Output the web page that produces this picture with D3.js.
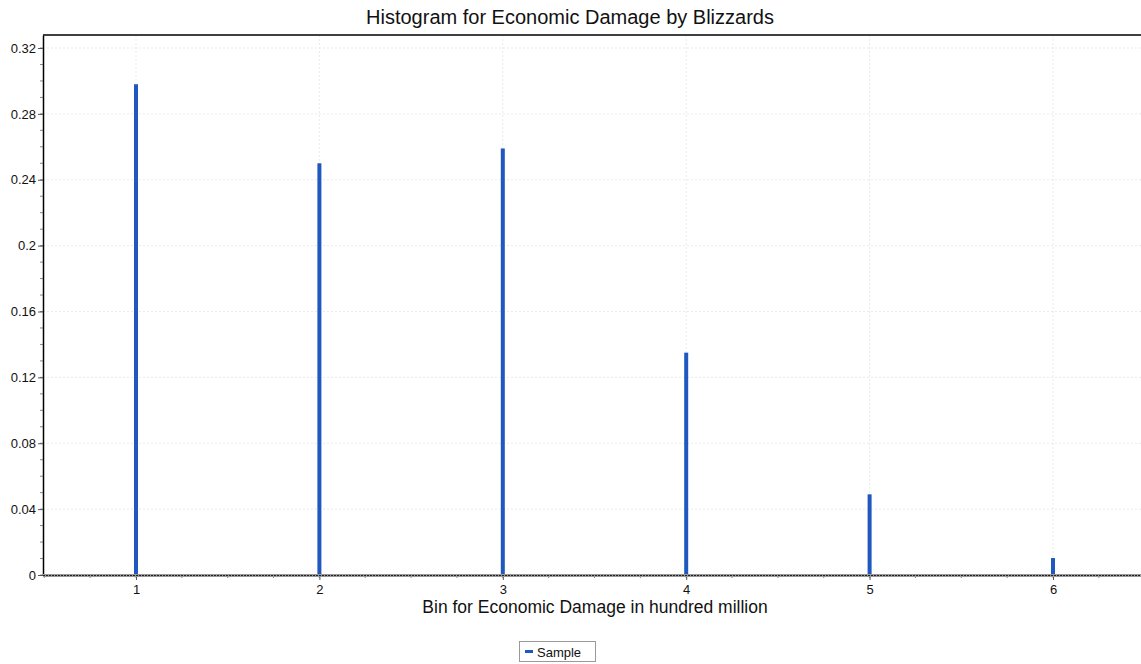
<!DOCTYPE html>
<html>
<head>
<meta charset="utf-8">
<script src="https://cdn.jsdelivr.net/npm/d3@7"></script>
<style>
  body { margin: 0; background: #fff; font-family: "Liberation Sans", Arial, sans-serif; }
  .tick text { font-family: "Liberation Sans", Arial, sans-serif; fill: #111; }
</style>
</head>
<body>
<div id="chart"></div>
<script>
// bins and relative frequency
var bins = [1, 2, 3, 4, 5, 6];
var freq = [0.298, 0.250, 0.259, 0.135, 0.049, 0.0103];
var yTicks = [0, 0.04, 0.08, 0.12, 0.16, 0.2, 0.24, 0.28, 0.32];
var seriesName = "Sample";

var W = 1141, H = 664;
var margin = {top: 35, right: 0, bottom: 89, left: 43},
    width = W - margin.left - margin.right,
    height = H - margin.top - margin.bottom;

var svg = d3.select("#chart").append("svg")
    .attr("width", W)
    .attr("height", H);

var g = svg.append("g")
    .attr("transform", "translate(" + margin.left + "," + margin.top + ")");

// x scale: 1 at 136, 6 at 1053
var x = d3.scaleLinear()
  .domain([1 - 93 / 183.4, 1 + (width - 93) / 183.4])
  .range([0, width]);

// 0.32 sits 13 px under the top border
var y = d3.scaleLinear()
  .domain([0, 0.32 * height / (height - 13)])
  .range([height, 0]);

// grid
g.append("g").selectAll("line")
  .data(yTicks)
  .join("line")
  .attr("x1", 0).attr("x2", width)
  .attr("y1", d => y(d)).attr("y2", d => y(d))
  .attr("stroke", "#ebebeb")
  .attr("stroke-dasharray", "2,2");

g.append("g").selectAll("line")
  .data(bins)
  .join("line")
  .attr("x1", d => x(d)).attr("x2", d => x(d))
  .attr("y1", 0).attr("y2", height)
  .attr("stroke", "#ebebeb")
  .attr("stroke-dasharray", "2,2");

// bars
g.selectAll("rect.bar")
  .data(bins)
  .join("rect")
  .attr("class", "bar")
  .attr("x", d => x(d) - 2)
  .attr("width", 4)
  .attr("y", (d, i) => y(freq[i]))
  .attr("height", (d, i) => height - y(freq[i]))
  .attr("fill", "#2158c0");

// minor ticks
var yMinor = d3.range(0, 0.3251, 0.01);
g.append("g").selectAll("line")
  .data(yMinor)
  .join("line")
  .attr("x1", -3).attr("x2", 0)
  .attr("y1", d => y(d)).attr("y2", d => y(d))
  .attr("stroke", "#888");

var xMinor = d3.range(0.5, 6.51, 0.25);
g.append("g").selectAll("line")
  .data(xMinor)
  .join("line")
  .attr("x1", d => x(d)).attr("x2", d => x(d))
  .attr("y1", height).attr("y2", height + 3)
  .attr("stroke", "#888");

// y axis
var yAxis = g.append("g")
  .call(d3.axisLeft(y).tickValues(yTicks)
    .tickFormat(d => String(+d.toFixed(2)))
    .tickSize(5).tickSizeOuter(0).tickPadding(2));
yAxis.select(".domain").attr("stroke", "#000").attr("stroke-width", 1.5);
yAxis.selectAll(".tick line").attr("stroke", "#555");
yAxis.selectAll(".tick text").style("font-size", "13px");

// x axis
var xAxis = g.append("g")
  .attr("transform", "translate(0," + height + ")")
  .call(d3.axisBottom(x).tickValues(bins).tickFormat(d3.format("d")).tickSize(5).tickPadding(5));
xAxis.select(".domain").remove();
xAxis.selectAll(".tick line").attr("stroke", "#555");
xAxis.selectAll(".tick text").style("font-size", "13px");

// bottom baseline (dotted)
g.append("line")
  .attr("x1", 0).attr("x2", width)
  .attr("y1", height + 0.5).attr("y2", height + 0.5)
  .attr("stroke", "#999").attr("stroke-width", 3);
g.append("line")
  .attr("x1", 0).attr("x2", width)
  .attr("y1", height + 0.5).attr("y2", height + 0.5)
  .attr("stroke", "#222").attr("stroke-width", 1)
  .attr("stroke-dasharray", "2,1");

// top border
g.append("line")
  .attr("x1", 0).attr("x2", width)
  .attr("y1", 0).attr("y2", 0)
  .attr("stroke", "#000").attr("stroke-width", 1.5);

// title
svg.append("text")
  .attr("x", 570).attr("y", 24)
  .attr("text-anchor", "middle")
  .style("font-size", "20px")
  .attr("fill", "#111")
  .text("Histogram for Economic Damage by Blizzards");

// x label
svg.append("text")
  .attr("x", 595).attr("y", 613)
  .attr("text-anchor", "middle")
  .style("font-size", "17.5px")
  .attr("fill", "#111")
  .text("Bin for Economic Damage in hundred million");

// legend
var leg = svg.append("g").attr("transform", "translate(519,641)");
leg.append("rect")
  .attr("x", 0.5).attr("y", 0.5)
  .attr("width", 76).attr("height", 20)
  .attr("fill", "#fff").attr("stroke", "#999");
leg.append("rect")
  .attr("x", 6).attr("y", 9)
  .attr("width", 8).attr("height", 3)
  .attr("fill", "#2158c0");
leg.append("text")
  .attr("x", 18).attr("y", 15.5)
  .style("font-size", "13px")
  .attr("fill", "#111")
  .text(seriesName);
</script>
</body>
</html>
